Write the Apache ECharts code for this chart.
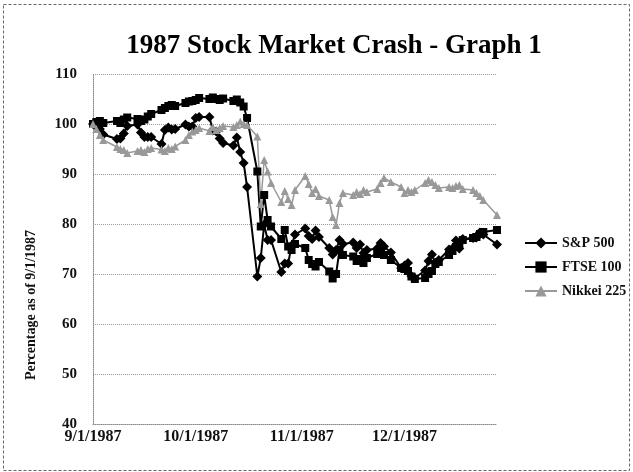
<!DOCTYPE html>
<html>
<head>
<meta charset="utf-8">
<script src="https://cdn.jsdelivr.net/npm/echarts@6/dist/echarts.min.js"></script>
<style>
html,body{margin:0;padding:0;background:#fff;}
#chart{width:633px;height:472px;}
</style>
</head>
<body>
<div id="chart"></div>
<script>
const titleText = '1987 Stock Market Crash - Graph 1';
const yAxisTitle = 'Percentage as of 9/1/1987';
const seriesNames = ['S&P 500', 'FTSE 100', 'Nikkei 225'];

const dates = [
  '1987-09-01','1987-09-02','1987-09-03','1987-09-04','1987-09-08','1987-09-09','1987-09-10','1987-09-11',
  '1987-09-14','1987-09-15','1987-09-16','1987-09-17','1987-09-18','1987-09-21','1987-09-22','1987-09-23',
  '1987-09-24','1987-09-25','1987-09-28','1987-09-29','1987-09-30',
  '1987-10-01','1987-10-02','1987-10-05','1987-10-06','1987-10-07','1987-10-08','1987-10-09','1987-10-12',
  '1987-10-13','1987-10-14','1987-10-15','1987-10-16','1987-10-19','1987-10-20','1987-10-21','1987-10-22',
  '1987-10-23','1987-10-26','1987-10-27','1987-10-28','1987-10-29','1987-10-30',
  '1987-11-02','1987-11-03','1987-11-04','1987-11-05','1987-11-06','1987-11-09','1987-11-10','1987-11-11',
  '1987-11-12','1987-11-13','1987-11-16','1987-11-17','1987-11-18','1987-11-19','1987-11-20','1987-11-23',
  '1987-11-24','1987-11-25','1987-11-27','1987-11-30',
  '1987-12-01','1987-12-02','1987-12-03','1987-12-04','1987-12-07','1987-12-08','1987-12-09','1987-12-10',
  '1987-12-11','1987-12-14','1987-12-15','1987-12-16','1987-12-17','1987-12-18','1987-12-21','1987-12-22',
  '1987-12-23','1987-12-24','1987-12-28'
];

const sp500 = [
  100, 99.5, 99.0, 97.9, 97.0, 97.1, 98.1, 99.6, 99.9, 98.3, 97.4, 97.4, 97.4, 96.0, 98.8, 99.3, 98.9, 99.0, 99.9, 99.5, 99.5,
  101.2, 101.4, 101.4, 98.7, 98.5, 97.1, 96.2, 95.7, 97.3, 94.4, 92.2, 87.4, 69.5, 73.2, 79.9, 76.8, 76.8, 70.4, 72.1, 72.1, 75.7, 77.9,
  79.1, 77.6, 77.0, 78.7, 77.4, 75.2, 73.9, 74.8, 76.8, 76.0, 76.3, 75.2, 75.9, 74.2, 74.8, 75.1, 76.2, 75.5, 74.3, 71.2,
  71.7, 72.2, 69.6, 69.2, 70.7, 72.6, 73.9, 72.2, 72.8, 74.9, 75.1, 76.7, 75.1, 77.0, 77.2, 77.3, 78.3, 77.9, 75.9
];

const ftse100 = [
  100, 100.4, 100.6, 100.2, 100.6, 100.2, 100.9, 101.3, 101.0, 100.6, 100.9, 101.5, 102.0, 102.8, 103.2, 103.6, 103.8, 103.6, 104.2, 104.5, 104.6,
  104.8, 105.2, 105.0, 105.3, 105.0, 104.8, 105.1, 104.6, 104.9, 104.3, 103.5, 101.2, 90.5, 79.5, 85.8, 80.8, 79.5, 77.0, 78.8, 75.5, 74.8, 76.0,
  75.2, 72.8, 72.0, 71.5, 72.4, 70.5, 69.1, 70.0, 74.8, 73.8, 73.5, 72.6, 73.0, 72.2, 73.2, 74.0, 74.6, 73.8, 72.8, 71.2,
  71.0, 70.6, 69.5, 69.0, 69.2, 70.0, 70.6, 72.0, 72.4, 73.8, 74.6, 75.4, 76.0, 76.8, 77.2, 77.4, 78.0, 78.4, 78.8
];

const nikkei225 = [
  100, 99.0, 97.8, 96.8, 95.4, 95.0, 94.8, 94.2, 94.6, 94.8, 94.4, 95.0, 95.2, 94.9, 94.6, 95.2, 95.0, 95.5, 96.8, 97.8, 98.5,
  98.8, 99.2, 98.6, 99.4, 98.8, 99.2, 99.6, 99.4, 99.8, 100.5, 100.0, 99.8, 97.5, 84.0, 92.8, 90.5, 88.2, 84.4, 86.6, 85.0, 83.8, 86.8,
  89.6, 88.0, 86.2, 87.0, 85.6, 84.8, 81.4, 79.8, 84.2, 86.2, 85.8, 86.4, 86.0, 86.8, 86.4, 87.0, 88.2, 89.2, 88.4, 87.4,
  86.2, 86.8, 86.4, 86.8, 88.2, 88.8, 88.4, 87.8, 87.2, 87.4, 87.2, 87.6, 87.8, 87.0, 86.8, 86.2, 85.6, 84.8, 81.8
];

const xTickLabels = ['1987-09-01', '1987-10-01', '1987-11-01', '1987-12-01'];
const yMin = 40, yMax = 110, yStep = 10;

// x positions are calendar days counted from the first date
const DAY = 86400000;
function utc(s) { const p = s.split('-').map(Number); return Date.UTC(p[0], p[1] - 1, p[2]); }
const origin = utc(dates[0]);
function dayIndex(s) { return Math.round((utc(s) - origin) / DAY); }
function dayLabel(n) {
  const d = new Date(origin + n * DAY);
  return (d.getUTCMonth() + 1) + '/' + d.getUTCDate() + '/' + d.getUTCFullYear();
}
function pairs(vals) { return dates.map((d, i) => [dayIndex(d), vals[i]]); }

const serif = '"Liberation Serif", "Times New Roman", serif';
const chart = echarts.init(document.getElementById('chart'), null, {renderer: 'canvas'});

chart.setOption({
  animation: false,
  backgroundColor: '#fff',
  grid: {left: 93, right: 136, top: 74, bottom: 48, containLabel: false},
  legend: {
    orient: 'vertical',
    left: 519, top: 231,
    itemWidth: 32, itemHeight: 14, itemGap: 10,
    textStyle: {fontFamily: serif, fontSize: 14, fontWeight: 'bold', color: '#111'},
    data: seriesNames
  },
  xAxis: {
    type: 'value',
    min: 0,
    max: dayIndex(dates[dates.length - 1]),
    axisLine: {show: true, lineStyle: {color: '#8a8a8a', type: 'dotted', width: 1}},
    axisTick: {show: false},
    splitLine: {show: false},
    axisLabel: {
      customValues: xTickLabels.map(dayIndex),
      margin: 5,
      hideOverlap: false,
      fontFamily: serif, fontSize: 16, fontWeight: 'bold', color: '#111',
      formatter: function (v) { return dayLabel(v); }
    }
  },
  yAxis: {
    type: 'value',
    min: yMin, max: yMax, interval: yStep,
    axisLine: {show: true, lineStyle: {color: '#8a8a8a', type: 'dotted', width: 1}},
    axisTick: {show: false},
    splitLine: {show: true, lineStyle: {color: '#9a9a9a', type: 'dotted', width: 1}},
    axisLabel: {margin: 16, fontFamily: serif, fontSize: 15, fontWeight: 'bold', color: '#111'}
  },
  graphic: [
    {type: 'rect', shape: {x: 3.5, y: 4.5, width: 626, height: 466},
     style: {fill: 'none', stroke: '#666', lineWidth: 1, lineDash: [3, 2]}, z: 100, silent: true},
    {type: 'text', x: 334, y: 46,
     style: {text: titleText, font: 'bold 27px ' + serif, fill: '#000', textAlign: 'center', textVerticalAlign: 'middle'}},
    {type: 'text', x: 31, y: 305, rotation: Math.PI / 2,
     style: {text: yAxisTitle, font: 'bold 14px ' + serif, fill: '#111', textAlign: 'center', textVerticalAlign: 'middle'}}
  ],
  series: [
    {name: seriesNames[0], type: 'line', data: pairs(sp500),
     symbol: 'diamond', symbolSize: 10, showAllSymbol: true,
     itemStyle: {color: '#000'}, lineStyle: {color: '#000', width: 2}},
    {name: seriesNames[1], type: 'line', data: pairs(ftse100),
     symbol: 'rect', symbolSize: 8, showAllSymbol: true,
     itemStyle: {color: '#000'}, lineStyle: {color: '#000', width: 2}},
    {name: seriesNames[2], type: 'line', data: pairs(nikkei225),
     symbol: 'triangle', symbolSize: 8, showAllSymbol: true,
     itemStyle: {color: '#999'}, lineStyle: {color: '#999', width: 1.5}}
  ]
});
</script>
</body>
</html>
